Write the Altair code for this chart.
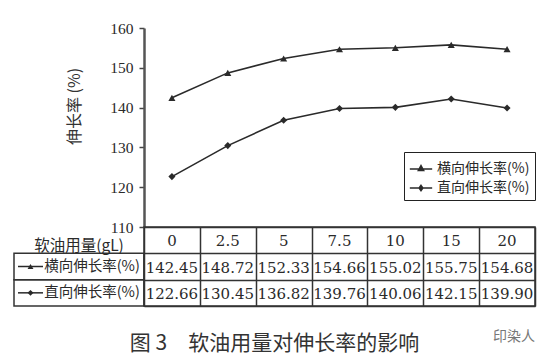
import altair as alt
import pandas as pd

# ---- data ----
dosage = ["0", "2.5", "5", "7.5", "10", "15", "20"]
transverse = [142.45, 148.72, 152.33, 154.66, 155.02, 155.75, 154.68]
longitudinal = [122.66, 130.45, 136.82, 139.76, 140.06, 142.15, 139.90]
series_names = ["横向伸长率(%)", "直向伸长率(%)"]
header_name = "软油用量(gL)"
y_ticks = [110, 120, 130, 140, 150, 160]
y_title = "伸长率 (%)"
caption = "图 3　软油用量对伸长率的影响"
watermark = "印染人"

rows = [header_name] + series_names
n = len(dosage)

line_df = pd.DataFrame({
    "dosage": dosage * 2,
    "value": transverse + longitudinal,
    "series": [series_names[0]] * n + [series_names[1]] * n,
})
table_df = pd.DataFrame({
    "dosage": dosage * 3,
    "row": [header_name] * n + [series_names[0]] * n + [series_names[1]] * n,
    "text": dosage + [f"{v:.2f}" for v in transverse] + [f"{v:.2f}" for v in longitudinal],
})
label_df = pd.DataFrame({"row": rows, "kind": ["header", "series", "series"]})

# ---- styling ----
PW, PH = 391, 199
LW, TH = 130, 79
CJK = "Noto Sans CJK SC"
NUM = "DejaVu Serif"
INK = "#2a2a2a"
LINE = "#333333"

xscale = alt.Scale(domain=dosage, paddingInner=0, paddingOuter=0)
yrow = alt.Scale(domain=rows, paddingInner=0, paddingOuter=0)
shape_scale = alt.Scale(domain=series_names, range=["triangle-up", "diamond"])
key_paths = ["M-1,0H1M0,-0.3L0.24,0.14L-0.24,0.14ZM0,-0.15L0.12,0.07L-0.12,0.07Z",
             "M-1,0H1M0,-0.24L0.17,0L0,0.24L-0.17,0ZM0,-0.1L0.07,0L0,0.1L-0.07,0Z"]

x_top = alt.X("dosage:N", sort=dosage, scale=xscale, axis=None)
y_top = alt.Y(
    "value:Q",
    scale=alt.Scale(domain=[110, 160], nice=False, zero=False),
    axis=alt.Axis(
        values=y_ticks, title=y_title, grid=False,
        labelFont="Liberation Serif", labelFontSize=15.5, labelColor=INK, labelPadding=6,
        tickSize=5, tickColor="#444", tickWidth=1.5,
        domainColor="#555", domainWidth=2.5,
        titleFont=CJK, titleFontSize=16, titleFontWeight="normal", titleColor="#333",
        titleAngle=270, titleX=-70, titleY=78, titleAlign="center", titleBaseline="middle",
    ),
)

base = alt.Chart(line_df)
lines = base.mark_line(color=INK, strokeWidth=1.6).encode(x=x_top, y=y_top, detail="series:N")
points = base.mark_point(filled=True, color=INK, size=50, opacity=1).encode(
    x=x_top, y=y_top, shape=alt.Shape("series:N", scale=shape_scale, legend=None)
)
keys = base.mark_point(filled=False, color=INK, strokeWidth=1.5, opacity=0).encode(
    x=x_top, y=y_top,
    shape=alt.Shape(
        "series:N",
        scale=alt.Scale(domain=series_names, range=key_paths),
        legend=alt.Legend(
            title=None, orient="none", legendX=260, legendY=124, direction="vertical",
            symbolSize=500, symbolStrokeWidth=1.5, symbolStrokeColor=INK, symbolOpacity=1,
            labelFont=CJK, labelFontSize=14, labelColor=INK, labelOffset=4, labelLimit=200,
            strokeColor="#222", fillColor="white", padding=5, rowPadding=0,
        ),
    ),
)
top = alt.layer(lines, points, keys).resolve_scale(shape="independent").properties(
    width=PW, height=PH, view=alt.ViewBackground(stroke=None)
)

spacer = alt.Chart(pd.DataFrame({"a": [0]})).mark_point(opacity=0).properties(
    width=LW, height=PH, view=alt.ViewBackground(stroke=None)
)

# ---- table ----
tx = alt.X("dosage:N", sort=dosage, scale=xscale,
           axis=alt.Axis(labels=False, ticks=False, domain=False, grid=True, tickBand="extent",
                         gridColor=LINE, gridWidth=1.5, title=None))
ty = alt.Y("row:N", sort=rows, scale=yrow,
           axis=alt.Axis(labels=False, ticks=False, domain=False, grid=True, tickBand="extent",
                         gridColor=LINE, gridWidth=1.5, title=None))
table = alt.Chart(table_df).mark_text(font=NUM, fontSize=15, color=INK, dy=1).encode(
    x=tx, y=ty, text="text:N"
).properties(
    width=PW, height=TH,
    view=alt.ViewBackground(stroke=LINE, strokeWidth=1.5),
    title=alt.TitleParams(watermark, orient="bottom", anchor="end", offset=24,
                          font=CJK, fontSize=14, fontWeight="normal", color="#777"),
)

lab_y = alt.Y("row:N", sort=rows, scale=yrow, axis=None)
lab = alt.Chart(label_df)
boxes = lab.transform_filter(alt.datum.kind == "series").mark_rect(
    fillOpacity=0, stroke=LINE, strokeWidth=1.5
).encode(y=lab_y)
hdr = lab.transform_filter(alt.datum.kind == "header").mark_text(
    font=CJK, fontSize=15.5, color=INK, dy=6
).encode(y=lab_y, text="row:N")
ser = lab.transform_filter(alt.datum.kind == "series").mark_text(
    font=CJK, fontSize=14.5, color=INK, dx=13
).encode(y=lab_y, text="row:N")
key_rule = lab.transform_filter(alt.datum.kind == "series").mark_rule(
    color=INK, strokeWidth=1.5
).encode(y=lab_y, x=alt.value(4), x2=alt.value(29))
key_pt = lab.transform_filter(alt.datum.kind == "series").mark_point(
    filled=True, color=INK, size=35, opacity=1
).encode(y=lab_y, x=alt.value(16.5),
         shape=alt.Shape("row:N", scale=shape_scale, legend=None))
labels = alt.layer(boxes, hdr, ser, key_rule, key_pt).properties(
    width=LW, height=TH, view=alt.ViewBackground(stroke=None)
)

chart = alt.concat(spacer, top, labels, table, columns=2, spacing=0,
                   bounds="flush", align="each").properties(
    title=alt.TitleParams(caption, orient="bottom", anchor="middle", offset=-12,
                          font=CJK, fontSize=21, fontWeight="normal", color="#333"),
    padding={"left": 5, "top": 13, "right": 5, "bottom": 5},
).configure(background="white")

chart.save("out.html", embed_options={"renderer": "svg", "actions": False})
